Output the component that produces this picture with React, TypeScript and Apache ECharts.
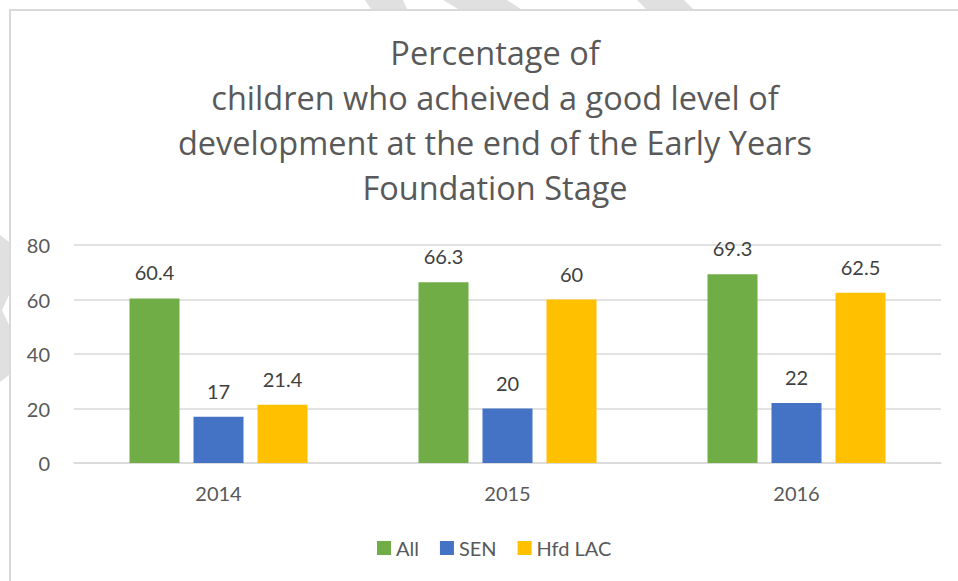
import React, { useEffect, useRef } from "react";
import * as echarts from "echarts";

const categories = ["2014", "2015", "2016"];
const seriesNames = ["All", "SEN", "Hfd LAC"];
const allValues = [60.4, 66.3, 69.3];
const senValues = [17, 20, 22];
const lacValues = [21.4, 60, 62.5];
const colors = ["#70AD47", "#4472C4", "#FFC000"];
const titleLines = [
  "Percentage of",
  "children who acheived a good level of",
  "development at the end of the Early Years",
  "Foundation Stage",
];

const FONT = "Lato, 'Noto Sans', sans-serif";
const TITLE_FONT = "'Open Sans', 'Noto Sans', sans-serif";

export default function App() {
  const ref = useRef<HTMLDivElement>(null);
  useEffect(() => {
    if (!ref.current) return;
    const chart = echarts.init(ref.current, null, { renderer: "svg" });
    const values = [allValues, senValues, lacValues];
    chart.setOption({
      animation: false,
      backgroundColor: "#ffffff",
      textStyle: { fontFamily: FONT },
      title: {
        text: titleLines.join("\n"),
        left: 490,
        top: 25,
        textAlign: "center",
        textStyle: {
          fontFamily: TITLE_FONT,
          fontSize: 32.5,
          fontWeight: "normal",
          color: "#595959",
          lineHeight: 45,
        },
      },
      graphic: [
        {
          type: "rect",
          z: -10,
          silent: true,
          shape: { x: 10, y: 10, width: 1000, height: 1000 },
          style: { fill: "none", stroke: "#d9d9d9", lineWidth: 2 },
        },
        {
          type: "polygon",
          z: -10,
          silent: true,
          shape: { points: [[365, 0], [403, 0], [407, 9], [371, 9]] },
          style: { fill: "#e0e0e0" },
        },
        {
          type: "polygon",
          z: -10,
          silent: true,
          shape: { points: [[443, 0], [507, 0], [521, 9], [458, 9]] },
          style: { fill: "#e0e0e0" },
        },
        {
          type: "polygon",
          z: -10,
          silent: true,
          shape: { points: [[637, 0], [684, 0], [693, 9], [646, 9]] },
          style: { fill: "#e0e0e0" },
        },
        {
          type: "polygon",
          z: -10,
          silent: true,
          shape: {
            points: [[0, 235], [9, 242], [9, 295], [2, 310], [9, 325], [9, 375], [0, 382]],
          },
          style: { fill: "#e0e0e0" },
        },
      ],
      legend: {
        data: seriesNames,
        left: 377,
        top: 538,
        padding: 0,
        itemWidth: 14,
        itemHeight: 14,
        itemGap: 21,
        icon: "rect",
        textStyle: { fontFamily: FONT, fontSize: 20, color: "#595959" },
      },
      grid: { left: 74, right: 17, top: 245, bottom: 118, containLabel: false },
      xAxis: {
        type: "category",
        data: categories,
        axisLine: { show: true, lineStyle: { color: "#d9d9d9", width: 1.5 } },
        axisTick: { show: false },
        axisLabel: { fontFamily: FONT, fontSize: 20, color: "#595959", margin: 20 },
      },
      yAxis: {
        type: "value",
        min: 0,
        max: 80,
        interval: 20,
        axisLine: { show: false },
        axisTick: { show: false },
        splitLine: { lineStyle: { color: "#d9d9d9", width: 1.5 } },
        axisLabel: { fontFamily: FONT, fontSize: 20, color: "#595959", margin: 24 },
      },
      series: seriesNames.map((name, i) => ({
        name,
        type: "bar",
        data: values[i],
        barWidth: 50,
        barGap: "28%",
        itemStyle: { color: colors[i] },
        label: {
          show: true,
          position: "top",
          distance: 16,
          fontFamily: FONT,
          fontSize: 20,
          color: "#404040",
        },
      })),
    });
    return () => chart.dispose();
  }, []);
  return (
    <div
      ref={ref}
      style={{ position: "fixed", left: 0, top: 0, width: 958, height: 581 }}
    />
  );
}
